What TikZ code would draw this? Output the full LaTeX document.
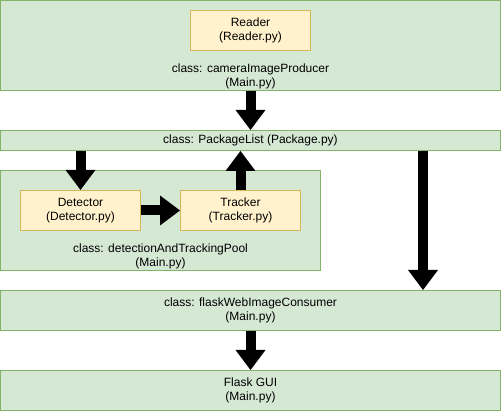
\documentclass[tikz,border=0pt]{standalone}
\usepackage{fontspec}
\setmainfont{Liberation Sans}
\usetikzlibrary{arrows.meta}
\definecolor{groupfill}{HTML}{D5E8D4}
\definecolor{groupline}{HTML}{82B366}
\definecolor{partfill}{HTML}{FFF2CC}
\definecolor{partline}{HTML}{D6B656}

\begin{document}
\begin{tikzpicture}[x=1pt, y=-1pt,
	group/.style={draw=groupline, fill=groupfill, line width=1pt, inner sep=0pt, align=center, font=\fontsize{12}{14}\selectfont},
	part/.style={draw=partline, fill=partfill, line width=1pt, inner sep=0pt, align=center, font=\fontsize{12}{14}\selectfont, minimum width=120pt, minimum height=40pt},
	grouptext/.style={anchor=south, align=center, inner sep=1.5pt, font=\fontsize{12}{14}\selectfont},
	fat/.style={line width=10pt, -{Triangle[width=30pt, length=20pt, line width=0pt]}}]
			\useasboundingbox (0,0) rectangle (501,411);
			\node[group, minimum width=500pt, minimum height=90pt, label={[grouptext]south:class: cameraImageProducer\\(Main.py)}] (producer) at (250.5,45.5) {};
			\node[part] (reader) at (250.5,30.5) {Reader\\(Reader.py)};
			\node[group, minimum width=500pt, minimum height=20pt] (plist) at (250.5,140.5) {class: PackageList (Package.py)};
			\node[group, minimum width=320pt, minimum height=100pt, label={[grouptext]south:class: detectionAndTrackingPool\\(Main.py)}] (pool) at (160.5,220.5) {};
			\node[part] (det) at (80.5,210.5) {Detector\\(Detector.py)};
			\node[part] (trk) at (240.5,210.5) {Tracker\\(Tracker.py)};
			\node[group, minimum width=500pt, minimum height=40pt] (consumer) at (250.5,310.5) {class: flaskWebImageConsumer\\(Main.py)};
			\node[group, minimum width=500pt, minimum height=40pt] (gui) at (250.5,390.5) {Flask GUI\\(Main.py)};

			\draw[fat] (producer.south) -- (plist.north);
			\draw[fat] (det.north |- plist.south) -- (det.north);
			\draw[fat] (det.east) -- (trk.west);
			\draw[fat] (trk.north) -- (trk.north |- plist.south);
			\draw[fat] ([xshift=172.5pt]plist.south) -- ([xshift=172.5pt]consumer.north);
			\draw[fat] (consumer.south) -- (gui.north);
		\end{tikzpicture}
\end{document}
